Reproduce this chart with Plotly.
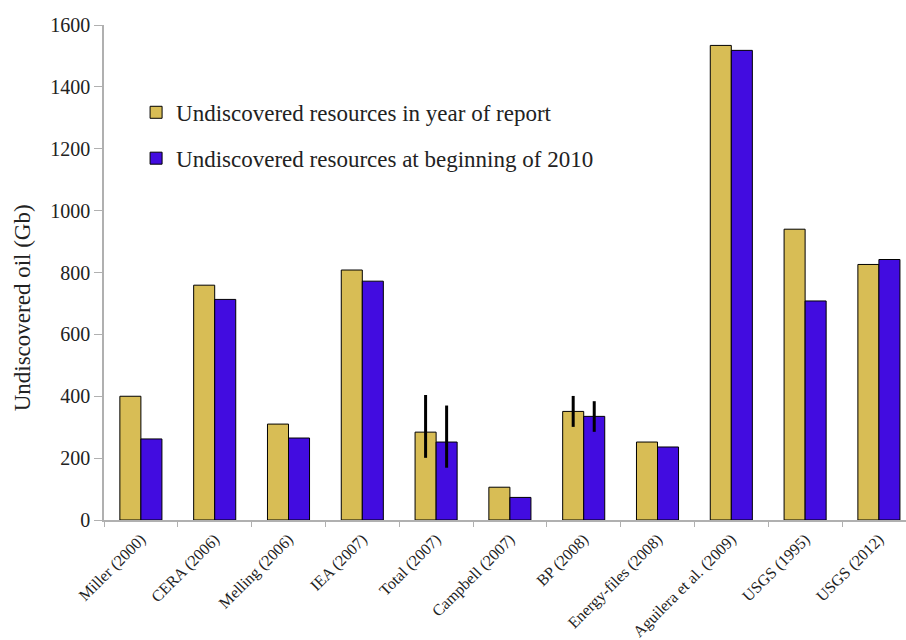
import plotly.graph_objects as go

studies = ["Miller (2000)", "CERA (2006)", "Melling (2006)", "IEA (2007)", "Total (2007)",
           "Campbell (2007)", "BP (2008)", "Energy-files (2008)", "Aguilera et al. (2009)",
           "USGS (1995)", "USGS (2012)"]
year_of_report = [400, 759, 310, 808, 284, 106, 351, 252, 1534, 940, 826]
begin_2010 = [262, 713, 265, 772, 252, 73, 335, 236, 1518, 708, 842]
err_report_plus = [0, 0, 0, 0, 120, 0, 50, 0, 0, 0, 0]
err_report_minus = [0, 0, 0, 0, 83, 0, 50, 0, 0, 0, 0]
err_2010_plus = [0, 0, 0, 0, 118, 0, 49, 0, 0, 0, 0]
err_2010_minus = [0, 0, 0, 0, 83, 0, 50, 0, 0, 0, 0]

serif = "Liberation Serif, DejaVu Serif, serif"

fig = go.Figure()
fig.add_trace(go.Bar(
    x=studies, y=year_of_report, name="Undiscovered resources in year of report",
    marker=dict(color="#D8BD55", line=dict(color="black", width=1)),
    error_y=dict(type="data", symmetric=False, array=err_report_plus,
                 arrayminus=err_report_minus, color="black", thickness=3, width=0),
    legendgroup="a",
))
fig.add_trace(go.Bar(
    x=studies, y=begin_2010, name="Undiscovered resources at beginning of 2010",
    marker=dict(color="#420CE0", line=dict(color="black", width=1)),
    error_y=dict(type="data", symmetric=False, array=err_2010_plus,
                 arrayminus=err_2010_minus, color="black", thickness=3, width=0),
    legendgroup="b",
))

fig.update_layout(
    width=906, height=640,
    margin=dict(l=104, r=0, t=25, b=120, autoexpand=False),
    paper_bgcolor="white", plot_bgcolor="white",
    barmode="group", bargap=0.43, bargroupgap=0,
    font=dict(family=serif, color="#222222", size=20),
    showlegend=True,
    legend=dict(x=0.04, y=0.867, xanchor="left", yanchor="top",
                font=dict(family=serif, size=23, color="#222222"),
                tracegroupgap=13, bgcolor="rgba(0,0,0,0)", itemwidth=30),
    xaxis=dict(
        type="category", range=[-0.5, 10.367], automargin=False,
        tickangle=-45, tickfont=dict(family=serif, size=16, color="#222222"),
        showline=True, linecolor="#b0b0b0", linewidth=1.5,
        ticks="outside", ticklen=5, tickcolor="#b0b0b0", tickson="boundaries",
        ticklabelstandoff=2,
        showgrid=False, zeroline=False,
    ),
    yaxis=dict(
        range=[0, 1600], dtick=200, automargin=False,
        tickfont=dict(family=serif, size=20, color="#222222"),
        showline=True, linecolor="#b0b0b0", linewidth=1.5,
        ticks="outside", ticklen=8, tickcolor="#b0b0b0",
        showgrid=False, zeroline=False,
    ),
    annotations=[dict(
        text="Undiscovered oil (Gb)", textangle=-90,
        xref="paper", yref="paper", x=-0.102, y=0.428,
        xanchor="center", yanchor="middle", showarrow=False,
        font=dict(family=serif, size=23, color="#222222"),
    )],
)

fig.write_html("out.html")
